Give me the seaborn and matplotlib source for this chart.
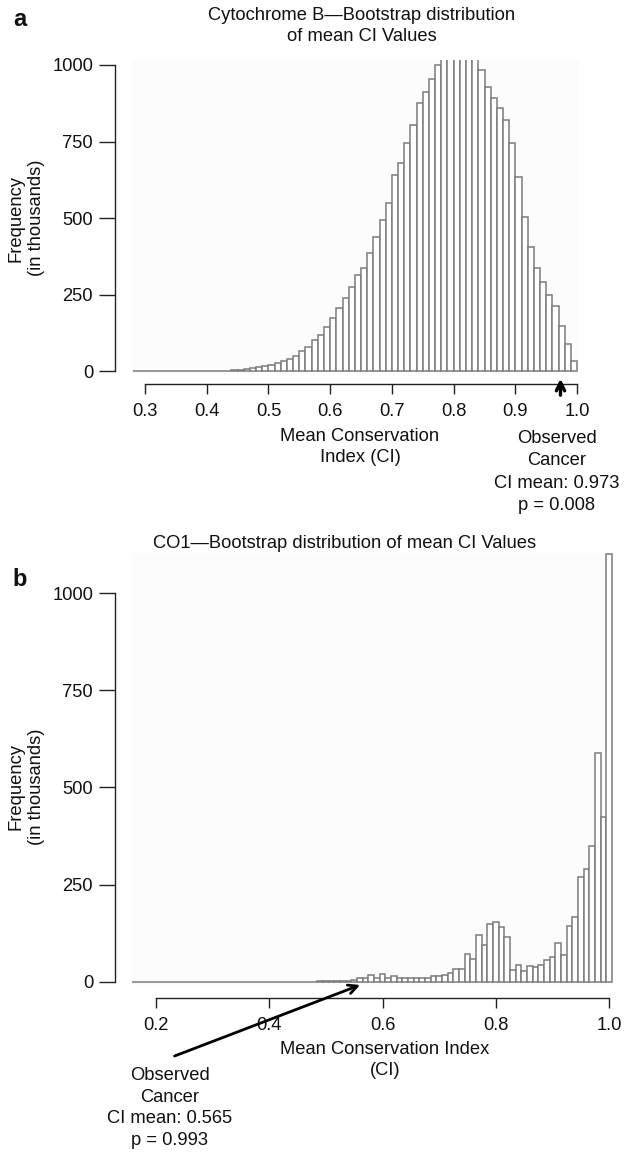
import matplotlib
matplotlib.use('Agg')
import matplotlib.pyplot as plt
import numpy as np
import pandas as pd
import seaborn as sns

# panel a: Cytochrome B bootstrap, bins of width 0.01, left edges 0.28 .. 0.99
cytb_start = 0.28
cytb_freq = [0, 0, 0, 0, 0, 0, 0, 0,                              # 0.28-0.35
             1, 1, 1, 1, 1, 1, 2, 2,                              # 0.36-0.43
             4, 5, 8, 10, 13, 17, 22, 27, 33, 41, 51, 67, 80,     # 0.44-0.56
             102, 119, 146, 174,                                  # 0.57-0.60
             208, 241, 274, 316, 339, 388, 440, 495, 550, 642,    # 0.61-0.70
             681, 746, 805, 876, 912, 954, 1000,                  # 0.71-0.77
             1040, 1075, 1090, 1085, 1060, 1025,                  # 0.78-0.83 (clipped)
             984, 928, 892, 860, 821, 746, 635, 505, 407, 339,    # 0.84-0.93
             293, 251, 212, 147, 88, 33]                          # 0.94-0.99

# panel b: CO1 bootstrap, bins of width 0.01 centred on 0.16 .. 1.00
co1_start = 0.16
co1_freq = ([0] * 19 + [1, 0]                                     # 0.16-0.36
            + [1, 1, 1, 1, 1, 1, 1, 1, 1, 1, 1, 1, 2, 2, 2, 2, 3, 3]  # 0.37-0.54
            + [6, 9, 9, 17, 9, 20, 11, 15, 9, 9, 9, 9, 11, 11, 15, 16,  # 0.55-0.70
               18, 22, 32, 32, 73, 58, 121, 95, 149, 155,         # 0.71-0.80
               141, 116, 30, 43, 29, 41, 39, 43, 57, 63,          # 0.81-0.90
               100, 68, 145, 168, 271, 290, 350, 589, 425, 1100])  # 0.91-1.00

y_ticks = [0, 250, 500, 750, 1000]
a_xticks = [0.3, 0.4, 0.5, 0.6, 0.7, 0.8, 0.9, 1.0]
b_xticks = [0.2, 0.4, 0.6, 0.8, 1.0]

a_title = 'Cytochrome B\u2014Bootstrap distribution\nof mean CI Values'
b_title = 'CO1\u2014Bootstrap distribution of mean CI Values'
a_note = 'Observed\nCancer\nCI mean: 0.973\np = 0.008'
b_note = 'Observed\nCancer\nCI mean: 0.565\np = 0.993'
a_obs = 0.973
b_obs = 0.565

sns.set_theme(style='ticks')
plt.rcParams['font.family'] = ['Liberation Sans', 'DejaVu Sans']
plt.rcParams['text.color'] = '#111111'
FS = 13.2
EDGE = '#7c7c7c'
INK = '#111111'

W, H = 624, 1152
fig = plt.figure(figsize=(W / 100, H / 100), dpi=100)


def px(x, y):
    return x / W, 1 - y / H


def hist_panel(ax, start, freq, centred):
    n = len(freq)
    edges = np.round(start + 0.01 * np.arange(n + 1), 3)
    if centred:
        edges = edges - 0.005
    mids = (edges[:-1] + edges[1:]) / 2
    df = pd.DataFrame({'ci': mids, 'freq': freq})
    sns.histplot(data=df, x='ci', weights='freq', bins=list(edges), ax=ax,
                 color='white', edgecolor=EDGE, linewidth=1.1, alpha=1)
    ax.set_facecolor('#fcfcfc')
    sns.despine(ax=ax)
    ax.set_xlabel('')
    ax.set_ylabel('')
    ax.set_yticks(y_ticks)
    ax.set_yticklabels([str(v) for v in y_ticks])
    ax.spines['left'].set_bounds(0, 1000)
    ax.tick_params(axis='both', width=1, color='#222222',
                   labelsize=FS, labelcolor=INK)
    ax.tick_params(axis='y', length=11.5, pad=4)
    ax.tick_params(axis='x', length=7.2, pad=6.5)
    for s in ('left', 'bottom'):
        ax.spines[s].set_color('#222222')
        ax.spines[s].set_linewidth(1)


# ---- panel a ----
ax_a = fig.add_axes([132 / W, 1 - 373 / H, (579 - 132) / W, (373 - 60) / H])
hist_panel(ax_a, cytb_start, cytb_freq, centred=False)
ax_a.set_xlim(0.279, 1.003)
ax_a.set_ylim(-5, 1016)
ax_a.set_xticks(a_xticks)
ax_a.set_xticklabels([f'{v:.1f}' for v in a_xticks])
ax_a.spines['left'].set_position(('outward', 12.5))
ax_a.spines['bottom'].set_position(('outward', 7.7))
ax_a.spines['bottom'].set_bounds(0.3, 1.0)

fig.text(*px(20, 20), 'a', fontsize=17, fontweight='bold', ha='center', va='center')
fig.text(*px(362, 26), a_title, fontsize=FS, ha='center', va='center', linespacing=1.3)
fig.text(*px(26, 218), 'Frequency\n(in thousands)', fontsize=FS, rotation=90,
         ha='center', va='center', linespacing=1.3)
fig.text(*px(360, 447), 'Mean Conservation\nIndex (CI)', fontsize=FS,
         ha='center', va='center', linespacing=1.38)
fig.text(*px(557, 472), a_note, fontsize=FS, ha='center', va='center', linespacing=1.4)
ax_a.annotate('', xy=(a_obs, 1 - 376 / H), xycoords=('data', 'figure fraction'),
              xytext=(a_obs, 1 - 398 / H), textcoords=('data', 'figure fraction'),
              arrowprops=dict(arrowstyle='->', lw=2.4, color='black', mutation_scale=15),
              annotation_clip=False)

# ---- panel b ----
ax_b = fig.add_axes([132 / W, 1 - 985 / H, (613 - 132) / W, (985 - 553) / H])
hist_panel(ax_b, co1_start, co1_freq, centred=True)
ax_b.set_xlim(0.158, 1.0065)
ax_b.set_ylim(-8, 1103)
ax_b.set_xticks(b_xticks)
ax_b.set_xticklabels([f'{v:.1f}' for v in b_xticks])
ax_b.spines['left'].set_position(('outward', 12.5))
ax_b.spines['bottom'].set_position(('outward', 9.5))
ax_b.spines['bottom'].set_bounds(0.2, 1.0)

fig.text(*px(20, 580), 'b', fontsize=17, fontweight='bold', ha='center', va='center')
fig.text(*px(345, 543), b_title, fontsize=FS, ha='center', va='center')
fig.text(*px(26, 787), 'Frequency\n(in thousands)', fontsize=FS, rotation=90,
         ha='center', va='center', linespacing=1.3)
fig.text(*px(385, 1060), 'Mean Conservation Index\n(CI)', fontsize=FS,
         ha='center', va='center', linespacing=1.38)
fig.text(*px(170, 1108), b_note, fontsize=FS, ha='center', va='center', linespacing=1.35)
ax_b.annotate('', xy=(b_obs, 1 - 984 / H), xycoords=('data', 'figure fraction'),
              xytext=px(172, 1057), textcoords='figure fraction',
              arrowprops=dict(arrowstyle='->', lw=2, color='black', mutation_scale=16),
              annotation_clip=False)

fig.savefig('out.png', dpi=100, facecolor='white')
